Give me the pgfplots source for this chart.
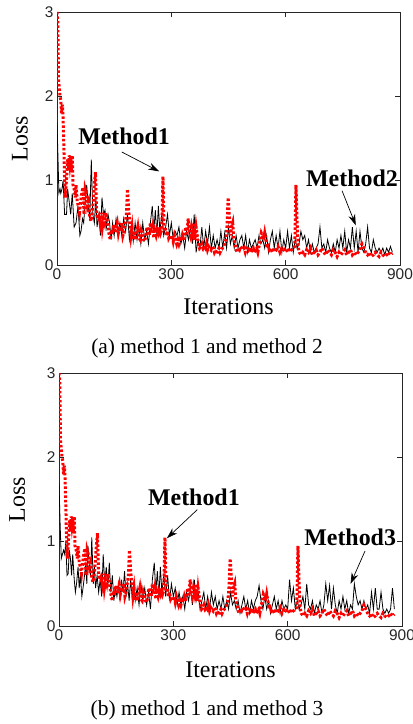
\documentclass[border=0pt]{standalone}
\usepackage{pgfplots}
\pgfplotsset{compat=1.18}
\usepackage{pgfplotstable}
\usepackage{fontspec}
\setmainfont{Liberation Serif}
\newfontfamily\arialf{Liberation Sans}
\usetikzlibrary{arrows.meta}
\definecolor{axgray}{RGB}{38,38,38}

\pgfplotstableread{
x y
0 3.0
2 2.9
4 2.2
6 2.1
8 2.0
10 1.95
12 1.8
14 1.9
16 1.75
18 1.4
20 1.0
22 0.8
24 0.95
26 1.1
28 1.25
30 1.15
32 1.3
34 1.2
36 1.28
38 1.1
40 1.3
42 0.95
45 0.9
48 0.8
50 0.95
53 0.75
56 0.7
59 0.62
62 0.75
65 0.85
68 0.92
71 0.6
74 0.9
77 0.85
80 0.7
83 0.75
86 0.58
89 0.52
92 0.6
95 0.75
98 0.95
101 1.1
104 0.6
107 0.55
110 0.58
113 0.5
116 0.62
119 0.45
122 0.55
125 0.5
128 0.62
131 0.55
134 0.45
137 0.35
140 0.3
143 0.42
146 0.4
149 0.48
152 0.38
155 0.45
158 0.5
161 0.38
164 0.45
167 0.4
170 0.5
173 0.35
176 0.4
179 0.5
182 0.6
185 0.9
188 0.65
191 0.5
194 0.35
197 0.45
200 0.3
203 0.4
206 0.3
209 0.38
212 0.45
215 0.32
218 0.3
221 0.4
224 0.35
227 0.3
230 0.28
233 0.35
236 0.45
239 0.38
242 0.35
245 0.5
248 0.38
251 0.45
254 0.32
257 0.4
260 0.35
263 0.42
266 0.38
269 0.45
272 0.38
275 0.42
278 1.05
281 0.4
284 0.45
287 0.35
290 0.4
293 0.32
296 0.35
299 0.3
302 0.35
305 0.28
308 0.35
311 0.3
314 0.25
317 0.3
320 0.25
323 0.3
326 0.28
329 0.35
332 0.3
335 0.38
338 0.45
341 0.35
344 0.55
347 0.4
350 0.35
353 0.45
356 0.38
359 0.5
362 0.3
365 0.45
368 0.35
371 0.25
374 0.2
377 0.22
380 0.25
383 0.2
386 0.22
389 0.2
392 0.25
395 0.18
398 0.22
401 0.2
404 0.18
407 0.22
410 0.2
413 0.15
416 0.18
419 0.13
422 0.18
425 0.2
428 0.15
431 0.18
434 0.2
437 0.22
440 0.25
443 0.3
446 0.45
449 0.8
452 0.6
455 0.35
458 0.45
461 0.5
464 0.3
467 0.25
470 0.18
473 0.15
476 0.2
479 0.18
482 0.22
485 0.2
488 0.18
491 0.2
494 0.15
497 0.2
500 0.22
503 0.18
506 0.2
509 0.15
512 0.18
515 0.2
518 0.15
521 0.18
524 0.2
527 0.15
530 0.22
533 0.3
536 0.38
539 0.35
542 0.3
545 0.38
548 0.3
551 0.2
554 0.22
557 0.18
560 0.2
565 0.15
570 0.2
575 0.18
580 0.22
585 0.15
590 0.2
595 0.18
600 0.2
605 0.15
610 0.2
615 0.18
620 0.2
624 0.22
627 0.95
630 0.5
633 0.2
636 0.15
640 0.12
645 0.15
650 0.12
655 0.18
660 0.15
665 0.2
670 0.12
675 0.15
680 0.18
685 0.12
690 0.15
695 0.2
700 0.15
705 0.12
710 0.18
715 0.15
720 0.12
725 0.18
730 0.15
735 0.1
740 0.15
745 0.12
750 0.15
755 0.18
760 0.12
765 0.15
770 0.18
775 0.12
780 0.15
785 0.12
790 0.15
795 0.18
800 0.25
805 0.2
810 0.15
815 0.12
820 0.15
825 0.1
830 0.12
835 0.15
840 0.12
845 0.1
850 0.15
855 0.12
860 0.1
865 0.12
870 0.15
875 0.12
880 0.14
}\methodone

\pgfplotstableread{
x y
0 1.7
3 1.2
5 0.85
8 0.9
10 0.85
13 0.9
16 1.0
20 0.6
25 0.6
28 0.9
32 0.75
36 0.6
40 0.85
45 0.45
50 0.5
55 0.7
60 0.35
63 0.4
67 0.55
70 0.5
75 0.8
78 0.95
82 0.7
86 0.55
90 1.25
94 0.6
98 0.5
102 0.8
105 0.45
110 0.6
114 0.35
118 0.8
122 0.6
126 0.65
130 0.45
134 0.6
138 0.5
142 0.3
146 0.5
150 0.35
155 0.55
160 0.4
165 0.5
170 0.35
175 0.55
180 0.4
185 0.6
190 0.3
195 0.45
200 0.28
205 0.5
210 0.3
215 0.45
220 0.25
225 0.5
230 0.3
235 0.4
240 0.25
245 0.5
250 0.7
254 0.4
258 0.65
262 0.35
266 0.7
270 0.4
275 0.6
280 0.35
285 0.45
290 0.6
295 0.35
300 0.5
305 0.3
310 0.4
315 0.35
320 0.45
325 0.25
330 0.35
335 0.2
340 0.4
345 0.3
350 0.45
355 0.25
360 0.6
365 0.15
370 0.3
375 0.2
380 0.45
385 0.2
390 0.4
395 0.25
400 0.45
405 0.2
410 0.35
415 0.2
420 0.3
425 0.2
430 0.4
435 0.2
440 0.38
445 0.2
450 0.45
455 0.25
460 0.35
465 0.2
470 0.35
475 0.2
480 0.3
485 0.35
490 0.2
495 0.35
500 0.15
505 0.3
510 0.2
515 0.25
520 0.3
525 0.2
530 0.35
535 0.25
540 0.3
545 0.2
550 0.35
555 0.15
560 0.3
565 0.4
570 0.2
575 0.35
580 0.2
585 0.4
590 0.15
595 0.3
600 0.2
605 0.4
610 0.2
615 0.35
620 0.15
625 0.3
630 0.2
635 0.25
640 0.4
645 0.3
650 0.35
655 0.2
660 0.3
665 0.15
670 0.25
675 0.15
680 0.2
685 0.25
690 0.45
695 0.2
700 0.25
705 0.15
710 0.3
715 0.2
720 0.15
725 0.25
730 0.15
735 0.3
740 0.2
745 0.35
750 0.2
755 0.4
760 0.15
765 0.3
770 0.2
775 0.45
780 0.2
785 0.4
790 0.15
795 0.4
800 0.2
805 0.15
810 0.25
815 0.45
820 0.2
825 0.15
830 0.3
835 0.2
840 0.15
845 0.2
850 0.15
855 0.2
860 0.12
865 0.2
870 0.15
875 0.22
880 0.15
}\methodtwo

\pgfplotstableread{
x y
0 1.7
3 1.2
6 0.8
9 0.85
12 0.9
15 0.85
18 1.0
21 0.6
24 0.62
27 0.9
30 0.8
33 0.6
36 0.85
40 0.55
43 0.4
46 0.5
50 0.7
53 0.45
56 0.6
60 0.35
63 0.45
67 0.6
70 0.75
73 0.5
76 0.95
80 0.7
83 0.6
86 1.05
90 0.5
93 0.7
96 0.45
100 0.6
104 0.4
108 0.55
112 0.35
116 0.85
120 0.5
124 0.7
128 0.45
132 0.75
136 0.4
140 0.6
144 0.3
148 0.45
152 0.35
156 0.5
160 0.3
164 0.55
168 0.4
172 0.65
176 0.35
180 0.5
184 0.3
188 0.55
192 0.35
196 0.5
200 0.3
205 0.45
210 0.25
215 0.5
220 0.3
225 0.45
230 0.25
235 0.4
240 0.2
245 0.55
250 0.75
254 0.4
258 0.65
262 0.35
266 0.7
270 0.4
275 0.6
280 0.35
285 0.6
290 0.3
295 0.5
300 0.35
305 0.45
310 0.25
315 0.4
320 0.25
325 0.35
330 0.2
335 0.4
340 0.3
345 0.45
350 0.25
355 0.55
360 0.3
365 0.4
370 0.2
375 0.3
380 0.4
385 0.2
390 0.35
395 0.2
400 0.4
405 0.25
410 0.35
415 0.2
420 0.3
425 0.2
430 0.35
435 0.2
440 0.3
445 0.2
450 0.4
455 0.25
460 0.3
465 0.2
470 0.3
475 0.15
480 0.25
485 0.35
490 0.2
495 0.3
500 0.15
505 0.3
510 0.2
515 0.3
520 0.35
525 0.48
530 0.3
535 0.2
540 0.35
545 0.2
550 0.3
555 0.15
560 0.25
565 0.35
570 0.2
575 0.3
580 0.15
585 0.3
590 0.2
595 0.25
600 0.2
605 0.55
610 0.3
615 0.45
620 0.2
625 0.3
630 0.2
635 0.25
640 0.35
645 0.2
650 0.5
655 0.25
660 0.2
665 0.3
670 0.15
675 0.25
680 0.2
685 0.3
690 0.15
695 0.25
700 0.5
705 0.3
710 0.48
715 0.2
720 0.45
725 0.25
730 0.15
735 0.3
740 0.2
745 0.35
750 0.2
755 0.3
760 0.15
765 0.25
770 0.2
775 0.5
780 0.35
785 0.25
790 0.3
795 0.2
800 0.3
805 0.2
810 0.25
815 0.15
820 0.4
825 0.2
830 0.45
835 0.2
840 0.2
845 0.4
850 0.2
855 0.15
860 0.2
865 0.15
870 0.2
875 0.45
880 0.2
}\methodthree

\pgfplotsset{
  lossaxis/.style={
    scale only axis,
    width=343bp, height=253bp,
    xmin=0, xmax=900, ymin=0, ymax=3,
    xtick={0,300,600,900}, ytick={0,1,2,3},
    tick align=inside,
    major tick length=5bp,
    axis line style={axgray, line width=0.8bp},
    every tick/.style={axgray, line width=0.8bp},
    tick label style={font=\arialf\fontsize{15.5}{15.5}\selectfont, text=axgray},
    /pgf/number format/assume math mode=true,
    label style={font=\fontsize{24}{24}\selectfont},
    xlabel={Iterations},
    ylabel={Loss},
    clip=true,
  },
  blackline/.style={black, line width=0.8bp},
  redline/.style={red, line width=3bp, line cap=butt, dash pattern=on 2.5bp off 2bp},
}
\tikzset{methlab/.style={font=\bfseries\fontsize{24}{24}\selectfont}}

\begin{document}
\begin{tikzpicture}
\useasboundingbox (0bp,0bp) rectangle (413bp,724bp);

% (a)
\begin{axis}[lossaxis, at={(57bp,459bp)}, anchor=south west,
  xlabel style={at={(axis description cs:0.5,-0.166)}, anchor=center},
  ylabel style={at={(axis description cs:-0.108,0.5)}, anchor=center}]
\addplot[blackline] table[x=x,y=y] {\methodtwo};
\addplot[redline] table[x=x,y=y] {\methodone};
\node[methlab] at (axis cs:176,1.53) {Method1};
\draw[-{Stealth[length=11bp,width=7bp]}, line width=0.7bp] (axis cs:170,1.34) -- (axis cs:268,1.11);
\node[methlab] at (axis cs:774,1.03) {Method2};
\draw[-{Stealth[length=11bp,width=7bp]}, line width=0.7bp] (axis cs:748,0.88) -- (axis cs:784,0.47);
\end{axis}
\node[font=\fontsize{21.5}{21.5}\selectfont] at (207bp,376bp) {(a) method 1 and method 2};

% (b)
\begin{axis}[lossaxis, at={(59bp,98bp)}, anchor=south west,
  xlabel style={at={(axis description cs:0.5,-0.173)}, anchor=center},
  ylabel style={at={(axis description cs:-0.122,0.5)}, anchor=center}]
\addplot[blackline] table[x=x,y=y] {\methodthree};
\addplot[redline] table[x=x,y=y] {\methodone};
\node[methlab] at (axis cs:354,1.52) {Method1};
\draw[-{Stealth[length=11bp,width=7bp]}, line width=0.7bp] (axis cs:363,1.38) -- (axis cs:283,1.04);
\node[methlab] at (axis cs:764,1.055) {Method3};
\draw[-{Stealth[length=11bp,width=7bp]}, line width=0.7bp] (axis cs:803,0.89) -- (axis cs:765,0.50);
\end{axis}
\node[font=\fontsize{21.5}{21.5}\selectfont] at (207bp,14bp) {(b) method 1 and method 3};
\end{tikzpicture}
\end{document}
